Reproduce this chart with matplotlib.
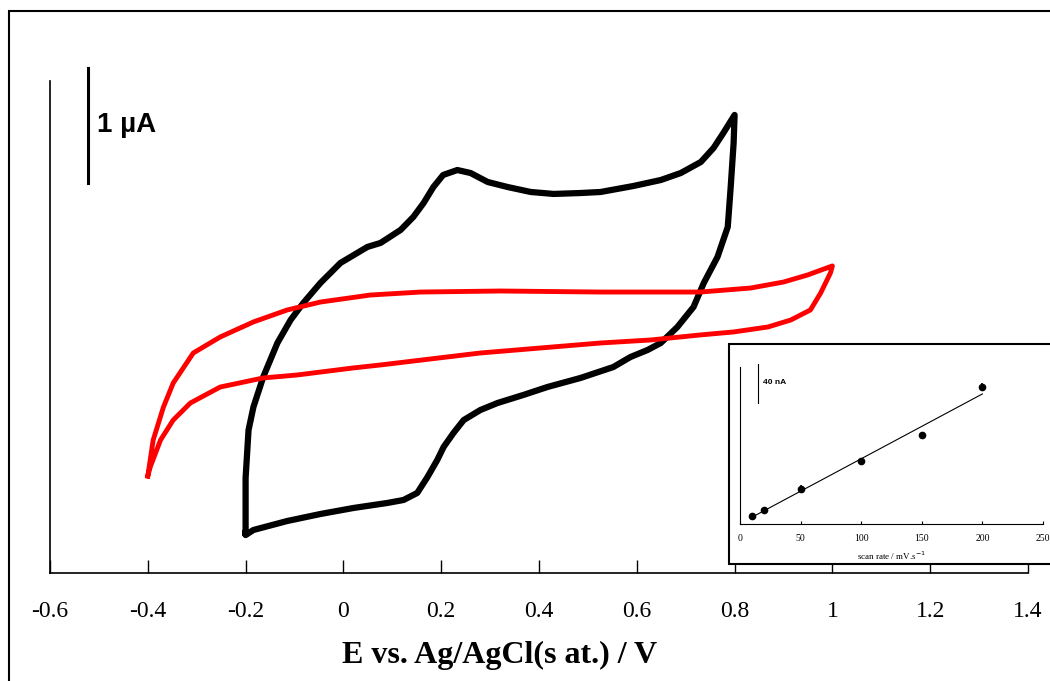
import numpy as np
import matplotlib
matplotlib.use("Agg")
import matplotlib.pyplot as plt
from matplotlib.patches import Rectangle

# Cyclic voltammograms: potential (V vs Ag/AgCl) and current (uA)
# electrode with redox probe, scanned -0.2 -> 0.8 -> -0.2 V
e_black = [-0.200, -0.200, -0.194, -0.184, -0.164, -0.135, -0.108, -0.082, -0.047, -0.006,
           0.049, 0.076, 0.117, 0.143, 0.164, 0.184, 0.204, 0.233, 0.260, 0.295,
           0.336, 0.383, 0.430, 0.485, 0.526, 0.593, 0.649, 0.690, 0.731, 0.757,
           0.777, 0.800,
           0.798, 0.792, 0.786, 0.765, 0.737, 0.716, 0.683, 0.649, 0.622, 0.587,
           0.552, 0.485, 0.417, 0.368, 0.315, 0.280, 0.246, 0.225, 0.205, 0.192,
           0.172, 0.151, 0.123, 0.090, 0.020, -0.047, -0.115, -0.184, -0.200, -0.200]
i_black = [-1.765, -1.287, -0.870, -0.670, -0.409, -0.113, 0.087, 0.235, 0.409, 0.583,
           0.722, 0.757, 0.870, 0.983, 1.104, 1.243, 1.348, 1.391, 1.365, 1.287,
           1.243, 1.200, 1.183, 1.191, 1.200, 1.252, 1.304, 1.365, 1.461, 1.583,
           1.713, 1.870,
           1.626, 1.243, 0.896, 0.635, 0.409, 0.200, 0.026, -0.113, -0.174, -0.235,
           -0.322, -0.417, -0.496, -0.565, -0.635, -0.696, -0.783, -0.896, -1.017, -1.130,
           -1.278, -1.417, -1.478, -1.504, -1.548, -1.600, -1.661, -1.739, -1.783, -1.765]

# blank electrode, scanned -0.4 -> 1.0 -> -0.4 V
e_red = [-0.400, -0.389, -0.368, -0.348, -0.307, -0.252, -0.184, -0.115, -0.047, 0.055,
         0.158, 0.321, 0.526, 0.730, 0.833, 0.900, 0.949, 1.000,
         0.996, 0.976, 0.955, 0.915, 0.868, 0.798, 0.730, 0.628, 0.526, 0.280,
         0.076, 0.020, -0.094, -0.164, -0.252, -0.313, -0.348, -0.374, -0.395, -0.400]
i_red = [-1.270, -0.957, -0.670, -0.461, -0.200, -0.061, 0.070, 0.174, 0.243, 0.304,
         0.330, 0.339, 0.330, 0.330, 0.365, 0.417, 0.478, 0.557,
         0.496, 0.322, 0.174, 0.087, 0.026, -0.017, -0.043, -0.087, -0.113, -0.200,
         -0.304, -0.330, -0.391, -0.417, -0.496, -0.635, -0.783, -0.957, -1.191, -1.270]

x_ticks = [-0.6, -0.4, -0.2, 0, 0.2, 0.4, 0.6, 0.8, 1.0, 1.2, 1.4]
x_ticklabels = ["-0.6", "-0.4", "-0.2", "0", "0.2", "0.4", "0.6", "0.8", "1", "1.2", "1.4"]

# inset: peak current (nA) vs scan rate (mV/s)
scan_rate = [10, 20, 50, 100, 150, 200]
peak_current = [8, 14, 35, 63, 89, 137]
peak_err = [1, 3, 4, 1, 1, 4]
inset_ticks = [0, 50, 100, 150, 200, 250]

serif = "Liberation Serif"
sans = "Liberation Sans"

fig = plt.figure(figsize=(10.5, 6.81), dpi=100)

# outer frame (only left/top edges fall inside the canvas)
fig.add_artist(Rectangle((9 / 1050, -0.1), 1.2, 1 - 11 / 681 + 0.1,
                         transform=fig.transFigure, fill=False,
                         edgecolor="black", linewidth=1.5, zorder=0))

ax = fig.add_axes([50 / 1050, 1 - 573 / 681, 978 / 1050, 492 / 681])
ax.plot(e_black, i_black, color="black", lw=4.5, solid_joinstyle="round")
ax.plot(e_red, i_red, color="#ff0000", lw=3.5, solid_joinstyle="round")

ax.set_xlim(-0.6, 1.4)
ax.set_ylim(-2.113, 2.165)
ax.set_xticks(x_ticks)
ax.set_xticklabels(x_ticklabels, family=serif, fontsize=17)
ax.tick_params(axis="x", direction="in", length=9.5, width=1.0, pad=20)
ax.set_yticks([])
for side in ("top", "right"):
    ax.spines[side].set_visible(False)
for side in ("left", "bottom"):
    ax.spines[side].set_linewidth(1.2)

# 1 uA scale bar
ax.plot([-0.522, -0.522], [1.278, 2.278], color="black", lw=2.2, clip_on=False)
ax.text(-0.503, 1.78, "1 µA", family=sans, fontweight="bold", fontsize=20,
        ha="left", va="center")

fig.text(500 / 1050, 1 - 655 / 681, "E vs. Ag/AgCl(s at.) / V", family=serif,
         fontweight="bold", fontsize=23, ha="center", va="center")

# inset frame
fig.add_artist(Rectangle((729 / 1050, 1 - 564 / 681), 0.32, 220 / 681,
                         transform=fig.transFigure, facecolor="white",
                         edgecolor="black", linewidth=1.5, zorder=1))

axi = fig.add_axes([740 / 1050, 1 - 524 / 681, 303 / 1050, 157 / 681])
axi.set_zorder(2)
axi.patch.set_alpha(0)
fit = np.polyfit(scan_rate, peak_current, 1)
fit_x = np.array([scan_rate[0], scan_rate[-1]])
axi.plot(fit_x, np.polyval(fit, fit_x), color="black", lw=0.8)
axi.errorbar(scan_rate, peak_current, yerr=peak_err, fmt="o", color="black",
             ms=4.5, elinewidth=1.2, capsize=0)
axi.set_xlim(0, 250)
axi.set_ylim(0, 157)
axi.set_xticks(inset_ticks)
axi.set_xticklabels([str(t) for t in inset_ticks], family=serif, fontsize=7)
axi.tick_params(axis="x", direction="in", length=2, width=0.8, pad=7)
axi.set_yticks([])
for side in ("top", "right"):
    axi.spines[side].set_visible(False)
axi.set_xlabel("scan rate / mV.s$^{-1}$", family=serif, fontsize=6.5, labelpad=5)

axi.plot([15, 15], [121, 160], color="black", lw=0.8, clip_on=False)
axi.text(19, 141, "40 nA", family=sans, fontweight="bold", fontsize=6,
         ha="left", va="center")

fig.savefig("out.png", dpi=100)
